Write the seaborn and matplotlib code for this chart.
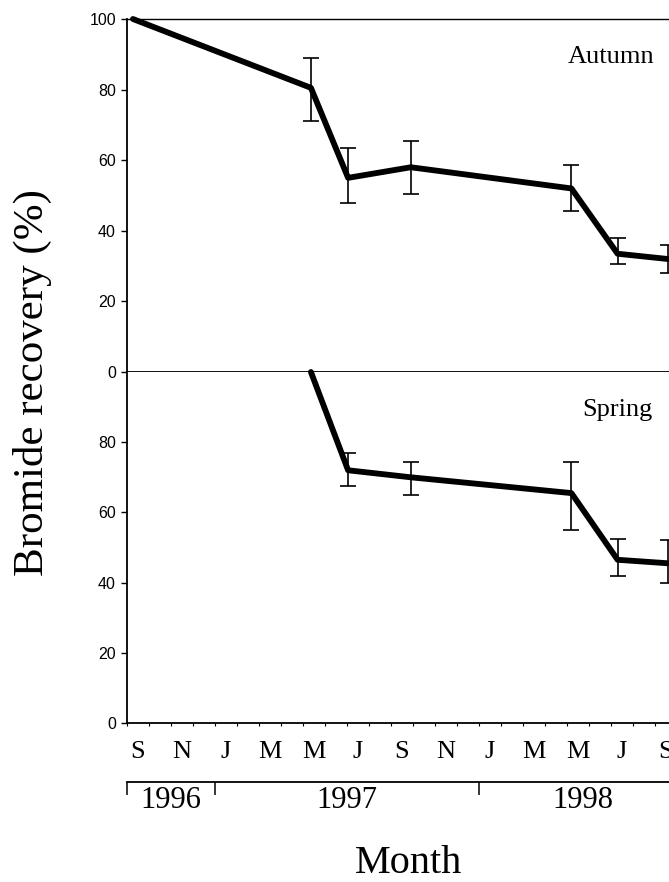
"""Bromide recovery after autumn and spring application, two stacked panels."""

import matplotlib

matplotlib.use("Agg")
import matplotlib.pyplot as plt
import numpy as np
import pandas as pd
import seaborn as sns
from matplotlib.ticker import FixedLocator, NullFormatter

# months counted from 1 Sep 1996
autumn_month = [0.27, 8.36, 10.05, 12.9, 20.2, 22.3, 24.6]
autumn_value = [100, 80.5, 55, 58, 52, 33.5, 32]
autumn_lo = [100, 71, 48, 50.5, 45.5, 30.5, 28]
autumn_hi = [100, 89, 63.5, 65.5, 58.5, 38, 36]

spring_month = [8.36, 10.05, 12.9, 20.2, 22.3, 24.6]
spring_value = [100, 72, 70, 65.5, 46.5, 45.5]
spring_lo = [100, 67.5, 65, 55, 42, 40]
spring_hi = [100, 77, 74.5, 74.5, 52.5, 52]

month_letters = ["S", "N", "J", "M", "M", "J", "S", "N", "J", "M", "M", "J", "S"]
year_labels = ["1996", "1997", "1998"]
year_starts = [0, 4, 16]
year_centres = [2, 10, 20.7]

W, H = 669, 882
SERIF = ["Liberation Serif", "DejaVu Serif"]
SANS = ["Liberation Sans", "DejaVu Sans"]

sns.set_style("ticks", {"axes.edgecolor": "black", "xtick.color": "black",
                        "ytick.color": "black", "text.color": "black"})
plt.rcParams["font.family"] = SANS

fig = plt.figure(figsize=(W / 100, H / 100), dpi=100)
left = 127 / W
width = 26 * 22 / W
ax1 = fig.add_axes([left, 1 - 372 / H, width, (372 - 19) / H])
ax2 = fig.add_axes([left, 1 - 723 / H, width, (723 - 372) / H])

panels = [
    (ax1, autumn_month, autumn_value, autumn_lo, autumn_hi, "Autumn", 611,
     [0, 20, 40, 60, 80, 100]),
    (ax2, spring_month, spring_value, spring_lo, spring_hi, "Spring", 617,
     [0, 20, 40, 60, 80]),
]

for ax, months, vals, lo, hi, name, name_x, yt in panels:
    df = pd.DataFrame({"month": months, "value": vals})
    err = np.array([np.array(vals) - np.array(lo), np.array(hi) - np.array(vals)])
    ax.errorbar(months[1:], vals[1:], yerr=err[:, 1:], fmt="none", ecolor="black",
                elinewidth=1.2, capsize=5.5, capthick=1.2, zorder=2, clip_on=False)
    sns.lineplot(data=df, x="month", y="value", ax=ax, color="black", linewidth=4.2,
                 zorder=3, clip_on=False)
    ax.set_xlim(0, 26)
    ax.set_ylim(0, 100)
    ax.set_yticks(yt)
    ax.tick_params(axis="y", direction="out", length=4, width=1, pad=4, labelsize=11.5,
                   labelcolor="black")
    ax.set_xlabel("")
    ax.set_ylabel("")
    ax.text((name_x - 127) / 572, 1 - 44 / 353, name, transform=ax.transAxes,
            ha="center", va="baseline", fontsize=19, family=SERIF, color="black")
    for s in ax.spines.values():
        s.set_linewidth(1.3)
        s.set_color("black")
    ax.spines["right"].set_visible(False)

ax1.spines["top"].set_visible(True)
ax1.spines["top"].set_linewidth(1.0)
ax1.tick_params(axis="x", bottom=False, labelbottom=False)
ax2.spines["top"].set_visible(False)

# month letters centred between monthly ticks
ax2.xaxis.set_minor_locator(FixedLocator(np.arange(0, 27)))
ax2.xaxis.set_minor_formatter(NullFormatter())
ax2.set_xticks(np.arange(len(month_letters)) * 2 + 0.5)
ax2.set_xticklabels(month_letters, family=SERIF, fontsize=19, color="black")
ax2.tick_params(axis="x", which="major", length=0, pad=13)
ax2.tick_params(axis="x", which="minor", direction="out", length=2.5, width=0.8)

# year bracket below the month letters
sec = ax2.secondary_xaxis(-(782 - 723) / 351)
sec.set_xticks(year_starts)
sec.set_xticklabels([])
sec.set_xticks(year_centres, minor=True)
sec.set_xticklabels(year_labels, minor=True, family=SERIF, fontsize=22, color="black")
sec.tick_params(axis="x", which="major", direction="out", length=9.5, width=1.1)
sec.tick_params(axis="x", which="minor", length=0, pad=3)
sec.spines["bottom"].set_linewidth(1.3)
sec.spines["bottom"].set_color("black")

fig.text(32 / W, 1 - 383 / H, "Bromide recovery (%)", rotation=90, ha="center",
         va="center", fontsize=31, family=SERIF)
fig.text(408 / W, 1 - 873 / H, "Month", ha="center", va="baseline", fontsize=29,
         family=SERIF)

fig.savefig("out.png", dpi=100)
